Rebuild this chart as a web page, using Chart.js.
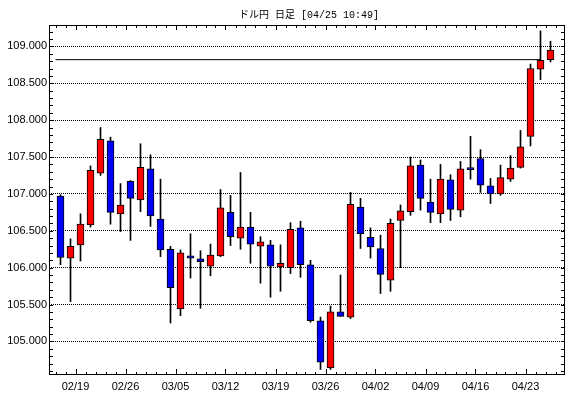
<!DOCTYPE html>
<html>
<head>
<meta charset="utf-8">
<script src="https://cdn.jsdelivr.net/npm/chart.js@4/dist/chart.umd.min.js"></script>
<style>
  body { margin: 0; background: #fff; }
  canvas { display: block; }
</style>
</head>
<body>
<canvas id="chart" width="570" height="398"></canvas>
<script>
// --- data ---
const dates = ['02/15','02/16','02/19','02/20','02/21','02/22','02/23','02/26','02/27','02/28',
  '03/01','03/02','03/05','03/06','03/07','03/08','03/09','03/12','03/13','03/14',
  '03/15','03/16','03/19','03/20','03/21','03/22','03/23','03/26','03/27','03/28',
  '03/29','03/30','04/02','04/03','04/04','04/05','04/06','04/09','04/10','04/11',
  '04/12','04/13','04/16','04/17','04/18','04/19','04/20','04/23','04/24','04/25'];

const opens  = [106.97,106.13,106.31,106.58,107.28,107.72,106.73,107.17,106.92,107.34,
  106.66,106.25,105.44,106.16,106.12,106.02,106.16,106.75,106.40,106.55,
  106.29,106.31,106.01,106.00,106.54,106.04,105.28,104.64,105.40,105.33,
  106.82,106.41,106.26,105.83,106.64,106.76,107.39,106.89,106.73,107.19,
  106.78,107.34,107.48,107.11,107.00,107.20,107.36,107.78,108.69,108.82];
const highs  = [106.99,106.39,106.73,107.38,107.90,107.77,107.14,107.18,107.68,107.53,
  107.20,106.29,106.24,106.46,106.23,106.32,107.06,106.98,107.29,106.75,
  106.42,106.37,106.31,106.61,106.63,106.10,105.33,105.48,105.90,107.02,
  106.94,106.54,106.44,106.66,106.85,107.50,107.46,107.20,107.40,107.26,
  107.44,107.78,107.60,107.21,107.39,107.52,107.86,108.76,109.21,109.07];
const lows   = [106.04,105.54,106.09,106.55,107.25,106.59,106.49,106.37,106.76,106.56,
  106.15,105.25,105.35,105.86,105.45,105.89,106.15,106.30,106.25,106.06,
  105.79,105.60,105.68,105.92,105.87,105.26,104.62,104.62,105.34,105.31,
  106.26,106.13,105.65,105.68,106.00,106.71,106.78,106.61,106.61,106.64,
  106.69,107.20,107.02,106.87,106.98,107.17,107.35,107.65,108.55,108.79];
const closes = [106.14,106.29,106.59,107.32,107.74,106.75,106.85,106.94,107.36,106.70,
  106.24,105.73,106.20,106.13,106.08,106.17,106.81,106.42,106.55,106.32,
  106.35,106.02,106.06,106.52,106.04,105.28,104.72,105.40,105.34,106.86,
  106.46,106.28,105.91,106.60,106.77,107.38,106.94,106.75,107.20,106.79,
  107.34,107.33,107.12,107.00,107.22,107.35,107.64,108.70,108.81,108.95];

const xLabels = ['02/19','02/26','03/05','03/12','03/19','03/26','04/02','04/09','04/16','04/23'];
const yLabels = [105.0, 105.5, 106.0, 106.5, 107.0, 107.5, 108.0, 108.5, 109.0];
const refLevel = 108.82;
const refFrom = '02/15', refTo = '04/24';

const titleText = 'ドル円 日足 [04/25 10:49]';
const FONT = '"Liberation Sans", Arial, "Noto Sans CJK JP", sans-serif';
const TITLE_FONT = '10px "Liberation Mono", "Noto Sans CJK JP", monospace';

// --- helpers ---
const isMajorY = v => yLabels.some(m => Math.abs(m - v) < 1e-6);
const bodyColors = opens.map((o, i) => closes[i] >= o ? '#ff0000' : '#0000ff');

// title, frame + inward tick marks, drawn through the scales
const framePlugin = {
  id: 'frame',
  afterDraw(chart) {
    const { ctx, chartArea: a, scales: { x, y } } = chart;
    ctx.save();
    ctx.fillStyle = '#000';
    ctx.font = TITLE_FONT;
    ctx.textAlign = 'center';
    ctx.textBaseline = 'alphabetic';
    ctx.fillText(titleText, (a.left + a.right) / 2 + 2, 18);

    ctx.strokeStyle = '#000';
    ctx.lineWidth = 1;
    ctx.beginPath();
    // day ticks, longer on week starts
    for (let i = 0; i <= dates.length; i++) {
      const px = Math.round(x.getPixelForValue(i - 0.5)) + 0.5;
      const major = xLabels.includes(dates[i]);
      ctx.moveTo(px, a.bottom); ctx.lineTo(px, a.bottom - (major ? 6 : 3));
      ctx.moveTo(px, a.top); ctx.lineTo(px, a.top + (major ? 5 : 3));
    }
    // y ticks left and right
    y.ticks.forEach(t => {
      const py = Math.round(y.getPixelForValue(t.value)) + 0.5;
      ctx.moveTo(a.left, py); ctx.lineTo(a.left + 4, py);
      ctx.moveTo(a.right, py); ctx.lineTo(a.right - 4, py);
    });
    ctx.stroke();
    ctx.strokeRect(Math.round(a.left) + 0.5, Math.round(a.top) + 0.5,
      Math.round(a.right - a.left) - 1, Math.round(a.bottom - a.top) - 1);
    ctx.restore();
  }
};

new Chart(document.getElementById('chart'), {
  type: 'bar',
  data: {
    datasets: [
      {
        label: 'body',
        data: dates.map((d, i) => ({ x: i, y: [opens[i], closes[i]] })),
        backgroundColor: bodyColors,
        borderColor: '#000',
        borderWidth: 1,
        borderSkipped: false,
        barThickness: 7,
        minBarLength: 2,
        grouped: false,
        order: 0
      },
      {
        label: 'wick',
        data: dates.map((d, i) => ({ x: i, y: [lows[i], highs[i]] })),
        backgroundColor: '#000',
        borderWidth: 0,
        barThickness: 1,
        grouped: false,
        order: 1
      },
      {
        type: 'line',
        label: 'ref',
        data: [
          { x: dates.indexOf(refFrom) - 0.5, y: refLevel },
          { x: dates.indexOf(refTo), y: refLevel }
        ],
        borderColor: '#000',
        borderWidth: 1,
        pointRadius: 0,
        fill: false,
        order: 2
      }
    ]
  },
  options: {
    responsive: false,
    animation: false,
    layout: { padding: { left: 0, right: 5, top: 25, bottom: 0 } },
    plugins: {
      legend: { display: false },
      tooltip: { enabled: false },
      title: { display: false }
    },
    scales: {
      x: {
        type: 'linear',
        offset: false,
        min: -1.15,
        max: 50.45,
        afterBuildTicks: s => { s.ticks = xLabels.map(l => ({ value: dates.indexOf(l) - 0.5 })); },
        afterFit: s => { s.height = 23; },
        grid: { display: false, drawTicks: false },
        border: { display: false },
        ticks: {
          autoSkip: false,
          maxRotation: 0,
          padding: 5,
          color: '#000',
          font: { family: FONT, size: 11 },
          callback: (v, i) => xLabels[i]
        }
      },
      y: {
        type: 'linear',
        min: 104.545,
        max: 109.29,
        afterBuildTicks: s => {
          const t = [];
          for (let k = Math.ceil(s.min * 10); k <= Math.floor(s.max * 10); k++) t.push({ value: k / 10 });
          s.ticks = t;
        },
        afterFit: s => { s.width = 49; },
        grid: {
          drawTicks: false,
          color: c => (c.tick && isMajorY(c.tick.value)) ? '#000' : 'rgba(0,0,0,0)'
        },
        border: { display: false, dash: [1, 1] },
        ticks: {
          autoSkip: false,
          padding: 2,
          color: '#000',
          font: { family: FONT, size: 11 },
          callback: v => isMajorY(v) ? v.toFixed(3) : ''
        }
      }
    }
  },
  plugins: [framePlugin]
});
</script>
</body>
</html>
